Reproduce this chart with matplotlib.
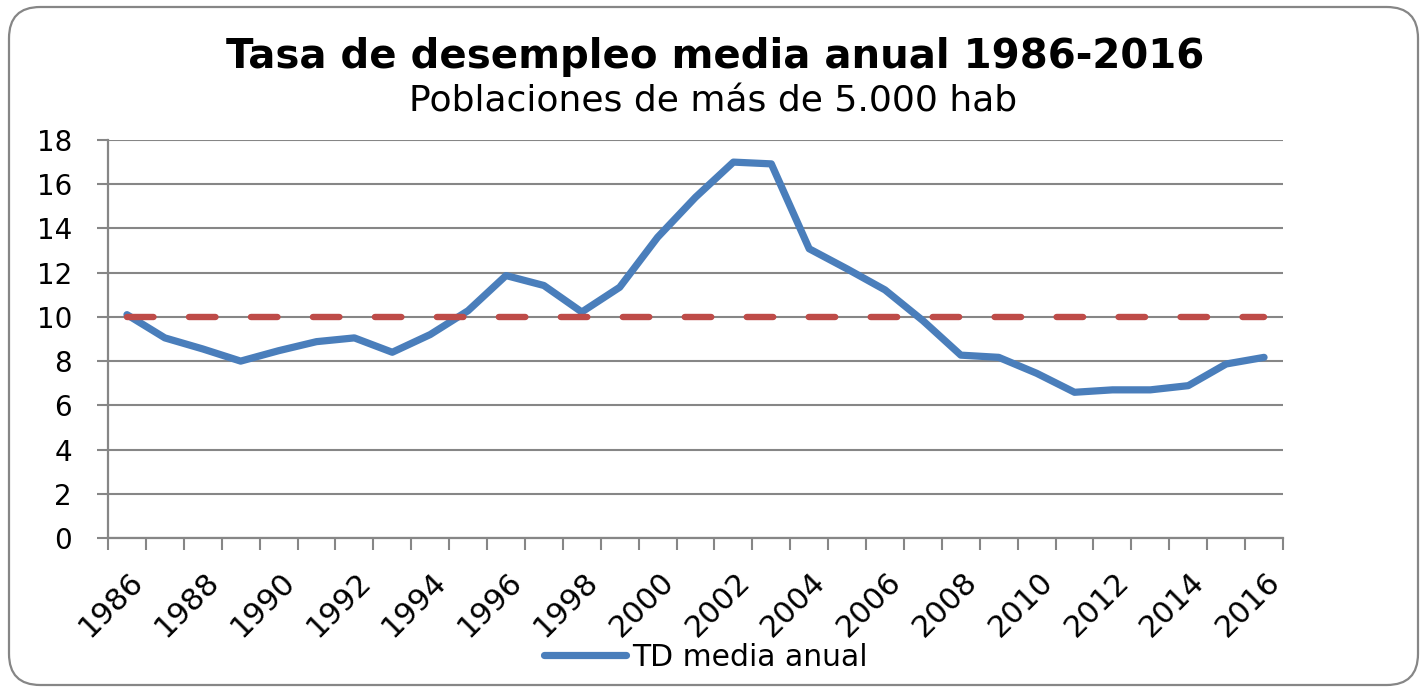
import matplotlib.pyplot as plt
import matplotlib.transforms as mtransforms
from matplotlib.patches import FancyBboxPatch

plt.rcParams['font.family'] = ['DejaVu Sans']

# data
years = list(range(1986, 2017))
td_media = [10.1, 9.05, 8.55, 8.0, 8.47, 8.88, 9.05, 8.4, 9.2, 10.28,
            11.87, 11.42, 10.22, 11.34, 13.6, 15.41, 17.0, 16.92, 13.08, 12.17,
            11.22, 9.83, 8.27, 8.17, 7.45, 6.59, 6.70, 6.70, 6.89, 7.87, 8.17]
media_periodo = [10.0] * len(years)
year_labels = [str(y) for y in years[::2]]

blue = '#4a7ebb'
red = '#be4b48'
grey = '#868686'

fig = plt.figure(figsize=(14.2, 6.88), dpi=100)

# rounded frame around the whole chart
frame = FancyBboxPatch((9 / 1420, 3 / 688), 1409 / 1420, 678 / 688,
                       boxstyle="round,pad=0,rounding_size=0.022",
                       transform=fig.transFigure, facecolor='none',
                       edgecolor=grey, linewidth=1.6, mutation_aspect=1420 / 688)
fig.patches.append(frame)

ax = fig.add_axes([108 / 1420, 1 - 538 / 688, (1283 - 108) / 1420, (538 - 140) / 688])
ax.patch.set_alpha(0)
x = list(range(len(years)))

ax.plot(x, td_media, color=blue, linewidth=5.2, solid_capstyle='round',
        solid_joinstyle='round', label='TD media anual', zorder=3)
ax.plot(x, media_periodo, color=red, linewidth=4.6, linestyle=(0, (4.15, 5.55)),
        dash_capstyle='round', zorder=4)

ax.set_xlim(-0.5, len(years) - 0.5)
ax.set_ylim(0, 18)
ax.set_yticks(range(0, 19, 2))
ax.grid(axis='y', color=grey, linewidth=1.5)
ax.set_axisbelow(True)

for s in ['top', 'right']:
    ax.spines[s].set_visible(False)
for s in ['left', 'bottom']:
    ax.spines[s].set_color(grey)
    ax.spines[s].set_linewidth(1.6)

ax.tick_params(axis='y', length=8, width=1.5, color=grey, pad=18, labelsize=20)
ax.set_xticks(x[::2])
ax.set_xticklabels(year_labels, rotation=45, ha='right', fontsize=22)
ax.set_xticks([i - 0.5 for i in range(len(years) + 1)], minor=True)
ax.tick_params(axis='x', which='major', length=0, pad=21)
ax.tick_params(axis='x', which='minor', length=8.5, width=1.5, color=grey)
offset = mtransforms.ScaledTranslation(22 / 100, 0, fig.dpi_scale_trans)
for lab in ax.get_xticklabels():
    lab.set_transform(lab.get_transform() + offset)

fig.text(0.5 * (222 + 1208) / 1420, 1 - 57 / 688, 'Tasa de desempleo media anual 1986-2016',
         ha='center', va='center', fontsize=29, fontweight='bold')
fig.text(0.5 * (397 + 1030) / 1420, 1 - 101 / 688, 'Poblaciones de más de 5.000 hab',
         ha='center', va='center', fontsize=26)

ax.legend(loc='center', bbox_to_anchor=(706 / 1420, 1 - 657 / 688),
          bbox_transform=fig.transFigure, frameon=False, fontsize=21.5,
          handlelength=2.75, handletextpad=0.2)

fig.savefig('out.png', dpi=100)
